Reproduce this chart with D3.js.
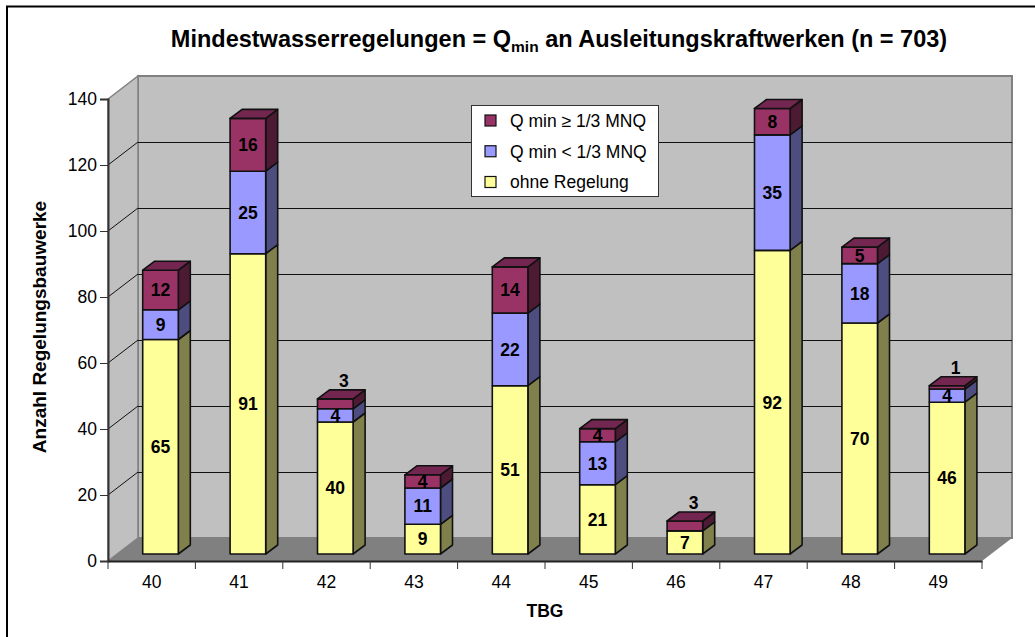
<!DOCTYPE html>
<html>
<head>
<meta charset="utf-8">
<script src="https://cdn.jsdelivr.net/npm/d3@7"></script>
<style>
  html, body { margin: 0; padding: 0; background: #fff; }
  svg { display: block; }
  text { font-family: "Liberation Sans", Arial, sans-serif; fill: #000; }
</style>
</head>
<body>
<svg id="chart" width="1035" height="637"></svg>
<script>
// Chart data: regulation counts per TBG, stacked bottom to top
const categories = ["40", "41", "42", "43", "44", "45", "46", "47", "48", "49"];
const ohneRegelung = [65, 91, 40, 9, 51, 21, 7, 92, 70, 46];
const unterDrittel = [9, 25, 4, 11, 22, 13, 0, 35, 18, 4];
const abDrittel = [12, 16, 3, 4, 14, 4, 3, 8, 5, 1];
const yTicks = [0, 20, 40, 60, 80, 100, 120, 140];
const seriesNames = ["Q min ≥ 1/3 MNQ", "Q min < 1/3 MNQ", "ohne Regelung"];

const width = 1035, height = 637;
const plot = { left: 108, right: 982, top: 99, bottom: 561 };
const wallDepth = { dx: 30, dy: -23 };   // oblique offset of the back wall
const barDepth = { dx: 12, dy: -9 };     // oblique offset of a bar's depth
const barLift = 7;                       // bars stand this far behind the front edge of the floor
const barOffset = 34.7, barWidth = 35.6;
const labelSize = 17.5;

const palette = {
  face: ["#ffff99", "#9999ff", "#993366"],
  side: ["#80804d", "#4d4d80", "#4d1a33"],
  top:  ["#a3a366", "#666699", "#732650"]
};

const svg = d3.select("#chart");
const x = d3.scaleBand().domain(categories).range([plot.left, plot.right]);
const y = d3.scaleLinear().domain([0, 140]).range([plot.bottom, plot.top]);

const poly = pts => pts.map(p => p.join(",")).join(" ");

// Outer frame; it runs past the right and bottom of the page
svg.append("rect")
  .attr("x", 7).attr("y", 6.5)
  .attr("width", width + 20).attr("height", height + 20)
  .attr("fill", "#fff").attr("stroke", "#000").attr("stroke-width", 2);

// Walls and floor
const L = plot.left, R = plot.right, T = plot.top, B = plot.bottom;
const dx = wallDepth.dx, dy = wallDepth.dy;

svg.append("polygon")
  .attr("points", poly([[L + dx, T + dy], [R + dx, T + dy], [R + dx, B + dy], [L + dx, B + dy]]))
  .attr("fill", "#c0c0c0").attr("stroke", "#808080").attr("stroke-width", 2);
svg.append("polygon")
  .attr("points", poly([[L, T], [L + dx, T + dy], [L + dx, B + dy], [L, B]]))
  .attr("fill", "#c0c0c0").attr("stroke", "#808080").attr("stroke-width", 1.5);

// Gridlines across the back wall and down the side wall
const gridTicks = yTicks.filter(t => t > 0 && t < 140);
svg.append("g").selectAll("line").data(gridTicks).join("line")
  .attr("x1", L + dx).attr("x2", R + dx)
  .attr("y1", d => Math.round(y(d) + dy) + 0.5).attr("y2", d => Math.round(y(d) + dy) + 0.5)
  .attr("stroke", "#111").attr("stroke-width", 1);
svg.append("g").selectAll("line").data(gridTicks).join("line")
  .attr("x1", L).attr("x2", L + dx)
  .attr("y1", d => y(d)).attr("y2", d => y(d) + dy)
  .attr("stroke", "#111").attr("stroke-width", 1);

svg.append("polygon")
  .attr("points", poly([[L, B], [L + dx, B + dy], [R + dx, B + dy], [R, B]]))
  .attr("fill", "#808080");

// Axes
const yAxis = d3.axisLeft(y).tickValues(yTicks).tickSize(8).tickPadding(3);
const yG = svg.append("g").attr("transform", `translate(${L},0)`).call(yAxis);
yG.select(".domain").attr("stroke", "#333").attr("stroke-width", 2);
yG.selectAll("line").attr("stroke", "#333");
yG.selectAll("text").attr("font-size", labelSize).attr("fill", "#000");

const xAxis = d3.axisBottom(x).tickSize(0).tickPadding(15);
const xG = svg.append("g").attr("transform", `translate(0,${B})`).call(xAxis);
xG.select(".domain").attr("stroke", "#222").attr("stroke-width", 2);
xG.selectAll("text").attr("font-size", labelSize).attr("fill", "#000");

// Tick marks fall on the category boundaries
const edges = categories.map(c => x(c)).concat(x(categories[categories.length - 1]) + x.bandwidth());
xG.selectAll("line.edge").data(edges).join("line")
  .attr("class", "edge")
  .attr("x1", d => d).attr("x2", d => d)
  .attr("y1", 0).attr("y2", 8)
  .attr("stroke", "#333");

// Stacked bars in oblique projection
const stackRows = categories.map((c, i) => ({
  cat: c, s0: ohneRegelung[i], s1: unterDrittel[i], s2: abDrittel[i]
}));
const stacked = d3.stack().keys(["s0", "s1", "s2"])(stackRows);
const yBar = v => y(v) - barLift;
const outline = { stroke: "#111", "stroke-width": 1.6, "stroke-linejoin": "round" };

const applyOutline = sel => Object.entries(outline).forEach(([k, v]) => sel.attr(k, v));

categories.forEach((c, i) => {
  const g = svg.append("g").attr("class", "bar");
  const x0 = x(c) + barOffset, x1 = x0 + barWidth;
  const ddx = barDepth.dx, ddy = barDepth.dy;
  let lastTop = null;
  stacked.forEach((layer, s) => {
    const [v0, v1] = layer[i];
    if (v1 === v0) return;
    const y0 = yBar(v0), y1 = yBar(v1);
    g.append("polygon")
      .attr("points", poly([[x1, y0], [x1 + ddx, y0 + ddy], [x1 + ddx, y1 + ddy], [x1, y1]]))
      .attr("fill", palette.side[s]).call(applyOutline);
    g.append("polygon")
      .attr("points", poly([[x0, y0], [x1, y0], [x1, y1], [x0, y1]]))
      .attr("fill", palette.face[s]).call(applyOutline);
    lastTop = { y1, s };
  });
  g.append("polygon")
    .attr("points", poly([[x0, lastTop.y1], [x1, lastTop.y1], [x1 + ddx, lastTop.y1 + ddy], [x0 + ddx, lastTop.y1 + ddy]]))
    .attr("fill", palette.top[lastTop.s]).call(applyOutline);

  // Value labels; very thin top segments carry theirs above the bar
  stacked.forEach((layer, s) => {
    const [v0, v1] = layer[i];
    const v = v1 - v0;
    if (v === 0) return;
    const thin = s === 2 && v <= 3;
    g.append("text")
      .attr("x", (x0 + x1) / 2 + (thin ? ddx * 0.72 : 0))
      .attr("y", thin ? yBar(v1) + ddy - 9 : yBar((v0 + v1) / 2))
      .attr("dy", "0.36em")
      .attr("text-anchor", "middle")
      .attr("font-size", labelSize)
      .attr("font-weight", "bold")
      .text(v);
  });
});

// Legend
const legend = svg.append("g");
legend.append("rect")
  .attr("x", 471.5).attr("y", 105.5).attr("width", 187).attr("height", 91)
  .attr("fill", "#fff").attr("stroke", "#333").attr("stroke-width", 1);
const legendY = d3.scalePoint().domain(seriesNames).range([120.5, 182]);
const legendRow = legend.selectAll("g").data(seriesNames).join("g")
  .attr("transform", d => `translate(0,${legendY(d)})`);
legendRow.append("rect")
  .attr("x", 485).attr("y", -5.5).attr("width", 11).attr("height", 11)
  .attr("fill", (d, i) => palette.face[2 - i])
  .attr("stroke", "#111").attr("stroke-width", 1.2);
legendRow.append("text")
  .attr("x", 510).attr("y", 0).attr("dy", "0.36em")
  .attr("font-size", labelSize)
  .text(d => d);

// Titles
const title = svg.append("text")
  .attr("x", 559).attr("y", 47)
  .attr("text-anchor", "middle")
  .attr("font-size", 23.5).attr("font-weight", "bold");
title.append("tspan").text("Mindestwasserregelungen = Q");
title.append("tspan").attr("font-size", 15.5).attr("dy", 5).text("min");
title.append("tspan").attr("dy", -5).text(" an Ausleitungskraftwerken (n = 703)");

svg.append("text")
  .attr("x", 545).attr("y", 617)
  .attr("text-anchor", "middle")
  .attr("font-size", 17.5).attr("font-weight", "bold")
  .text("TBG");

svg.append("text")
  .attr("transform", "translate(46,327) rotate(-90)")
  .attr("text-anchor", "middle")
  .attr("font-size", 19).attr("font-weight", "bold")
  .text("Anzahl Regelungsbauwerke");
</script>
</body>
</html>
